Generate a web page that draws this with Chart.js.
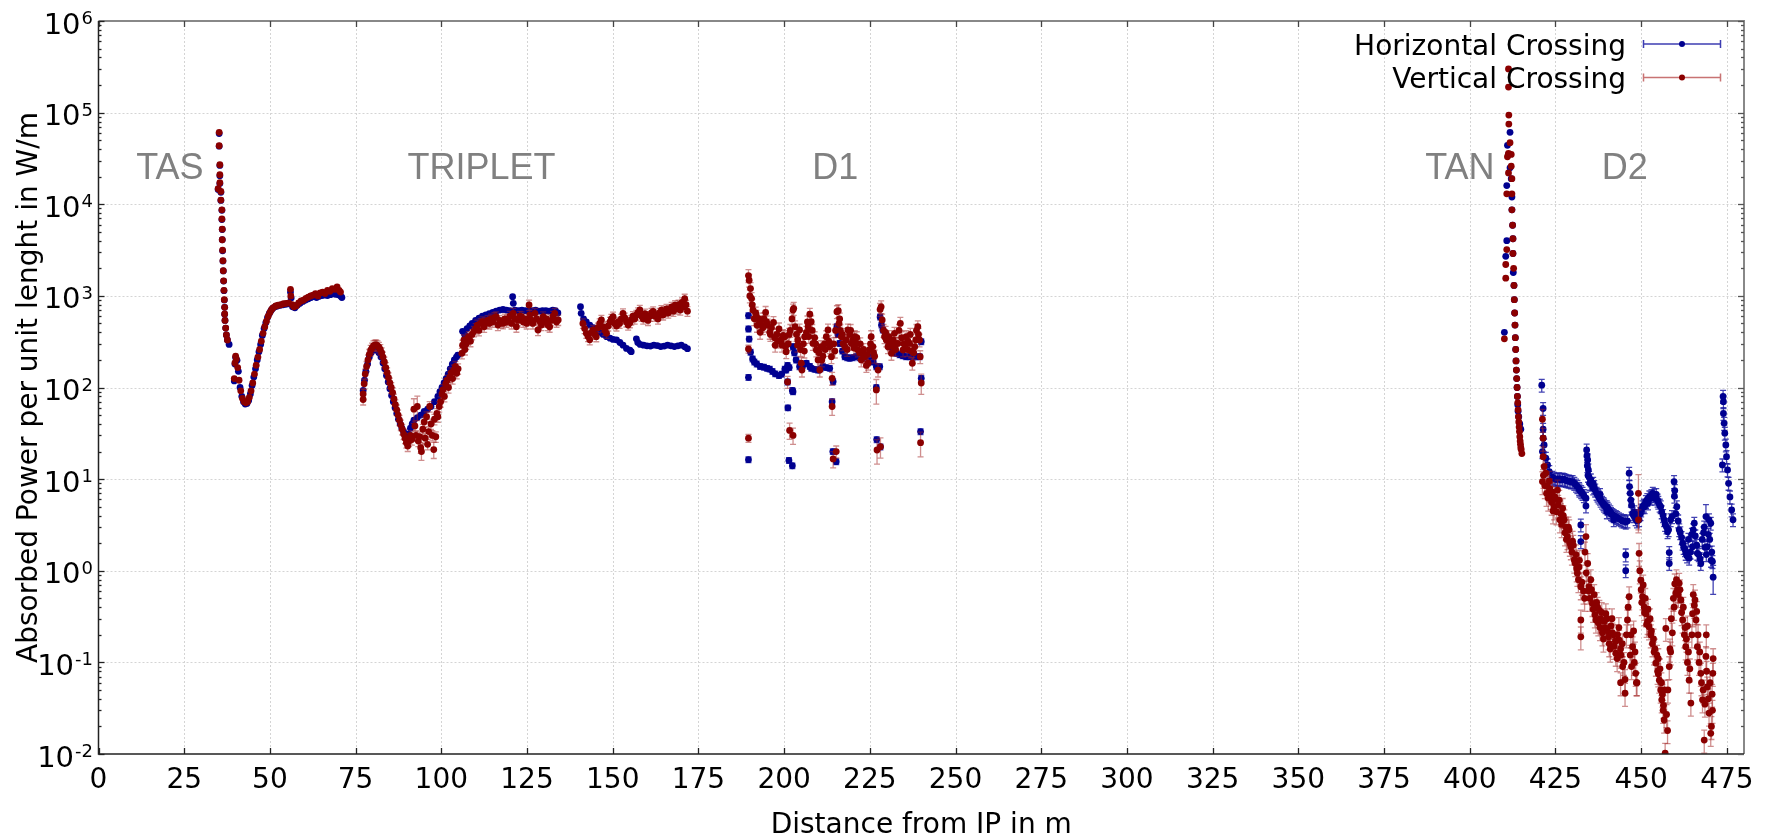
<!DOCTYPE html>
<html><head><meta charset="utf-8">
<script src="https://cdn.jsdelivr.net/npm/chart.js@4.4.1/dist/chart.umd.min.js"></script>
<style>html,body{margin:0;padding:0;background:#fff;overflow:hidden}</style>
</head><body>
<canvas id="c" width="1775" height="839"></canvas>
<script>
// ---------- DATA: [distance (m), power (W/m), relative error] ----------
const seriesNames = ['Horizontal Crossing', 'Vertical Crossing'];
const xTicks = [0,25,50,75,100,125,150,175,200,225,250,275,300,325,350,375,400,425,450,475];
const yTickExps = [-2,-1,0,1,2,3,4,5,6];
const regionLabels = ['TAS','TRIPLET','D1','TAN','D2'];
const regionX = [20.8,111.7,214.9,397.1,445.2];
const regionY = [24000,24000,24000,24000,24000];

// Horizontal crossing
const hTAS = [[35.2,59000],[35.2,43000],[35.4,26500],[35.4,20500],[35.4,16800],[34.9,14500],[35.7,13500],[35.7,11000],[36.0,8600],[36.0,6800],[36.1,5300],[36.1,4100],[36.2,3100],[36.3,2400],[36.4,1870],[36.5,1450],[36.6,1140],[36.7,900],[36.8,750],[36.8,630],[36.9,540],[37.1,445],[37.3,375],[37.6,330],[38.1,295],
[39.6,118],[39.8,180],[40.0,212],[40.4,198],[40.8,150],[41.3,100],[41.8,80],[42.3,70],[42.8,66],[43.3,67],[43.8,72],[44.3,85],[44.8,105],[45.3,130],[45.8,160],[46.3,200],[46.8,245],[47.3,295],[47.8,370],[48.3,440],[48.8,510],[49.3,580],[49.8,640],[50.3,690],[50.8,730],[51.5,760],[52.2,775],[53.0,790],[53.8,800],[54.6,810],[55.3,820],[56.0,1100],[56.2,950],[56.6,760],[57.3,740],[58.0,790],[58.8,830],[59.6,870],[60.4,900],[61.2,930],[62.0,960],[62.8,980],[63.6,960],[64.4,990],[65.2,1010],[66.0,1020],[66.8,1010],[67.6,1030],[68.4,1050],[69.2,1040],[70.0,1030],[70.6,1000],[71.0,960]];
const hTriplet = [[77.2,93],[77.6,120],[78.0,150],[78.5,180],[79.0,215],[79.5,240],[80.0,255],[80.6,262],[81.2,255],[81.8,240],[82.4,215],[83.0,185],[83.5,160],[84.0,135],[84.5,115],[85.0,97],[85.5,82],[86.0,70],[86.5,60],[87.0,52],[87.5,45],[88.0,40],[88.5,36],[89.0,33],[89.5,30],[90.0,29],[90.5,31],[91.0,36],[91.5,40],[92.0,44],[93,47],[94,50],[95,55],[96,58],[97,62],[98,70],[99,80],[99.6,90],[100.2,100],[100.8,112],[101.4,125],[102,140],[102.6,160],[103.2,180],[103.8,200],[104.4,215],[104.8,225],
[106.2,410],[106.8,380],[107.5,440],[108.3,470],[109,500],[110,540],[111,570],[112,600],[113,620],[114,640],[115,660],[116,680],[117,700],[118,710],[119,700],[120,690],[120.8,980],[121,830],[121.5,700],[122.5,690],[123.5,700],[124.5,690],[125.5,680],[126.5,690],[127.5,700],[128.5,680],[129.5,690],[130.5,690],[131.5,680],[132.5,700],[133.3,690],[134,650]];
const hQ3 = [[140.6,762],[140.8,645],[141.5,560],[142.3,520],[143.3,480],[144.3,450],[145.2,424],[146.2,400],[147.2,380],[148.2,359],[149.2,345],[150.1,335],[151.1,331],[152.1,310],[153.0,290],[154.0,267],[155.0,255],[155.4,246],[156.9,340],[157.3,310],[158,295],[159,290],[160,285],[161,283],[162,290],[163,287],[164,280],[165,283],[166,290],[167,285],[168,280],[169,285],[170,290],[171,278],[171.8,265]];
const hD1 = [[189.6,609],[189.6,436],[189.8,338],[190.2,243],[190.8,205],[191.3,190],[192,181],[193,170],[194.1,167],[195,162],[195.8,159],[196.6,150],[197.4,141],[198.5,135],[199.3,140],[200.2,159],[200.6,155],[201,174],[201.5,165],[202.6,279],[203,240],[203.5,200],[204.5,169],[205.5,175],[206.5,184],[207.5,170],[207.9,162],[208.9,158],[209.9,155],[210.6,160],[211.3,169],[212.3,165],[213.3,162],[214.3,116],[215.4,461],[215.7,380],[216.2,303],[217,250],[217.7,217],[218.4,212],[219.1,209],[220,212],[221,217],[222,212],[222.9,209],[224,215],[225,217],[226,190],[226.9,169],[227.9,169],[228,589],[228.4,480],[228.8,424],[229.5,370],[230.2,330],[230.8,279],[231.7,250],[232.7,236],[233.7,228],[234.6,222],[235.6,217],[236.6,217],[237.6,215],[238.5,217],[239.5,217],[240,316],[240,126],
[189.6,129],[189.6,16.3],[201,115],[201.1,60],[202.4,93],[202.6,90],[201.4,16],[202.4,14],[214,70],[214.2,20],[215.2,15.5],[226.9,100],[227,27],[228.1,22.5],[239.8,33]];
const hTAN = [[410.1,400],[410.5,2700],[410.8,4000],[410.8,16000],[411,44000],[411.3,35000],[411.75,61000],[411.75,25000],[412.1,19000],[412.3,12000],[412.3,8700],[412.5,5900],[412.6,4200],[412.6,2900],[412.7,1800],[412.9,1300],[413,910],[413.1,650],[413.2,480],[413.3,350],[413.4,260],[413.5,195],[413.6,155],[413.7,125],[413.8,100],[413.9,80],[414,65],[414.1,55],[414.3,48],[414.6,40],[414.9,35]];
const hD2 = [[421,106],[421.4,59],[421.4,35],[421.4,28],[421.7,23.6],[421.2,20],[422.2,16.9],[422.7,14.3],[423.2,12.1],[424.1,10.5],[425.6,10],[427.1,10],[428.5,9.55],[430,9.4],[431,8.6],[431.9,7.9],[432.9,7.0],[433.9,6.2],[433.9,5.1],[434.1,20.8],[434.4,16.2],[434.6,12.6],[435.3,9.8],[436.3,8.3],[437.3,6.7],[438.2,5.9],[439.2,5.2],[440.2,4.8],[441.2,4.2],[442.6,3.9],[444.1,3.6],[445.5,3.4],[446.5,11.6],[446.6,8.3],[447,5.9],[447.5,4.2],[448.4,3.7],[449.4,3.6],[450.4,5.0],[451.4,5.7],[452.8,6.2],[453.8,6.7],[454.8,5.9],[455.7,5.0],[456.7,3.6],[457.7,2.67],[458.6,3.6],[459.6,9.4],[459.7,6.5],[460.1,4.2],[461.1,2.8],[462.1,2.0],[463,1.55],[464,1.37],[465,1.83],[465.5,3.3],[466.4,1.55],[467.4,1.2],[468.4,3.0],[468.9,3.9,.35],[469.3,1.83],[470.3,3.3],[470.8,1.26],[471,0.85,.35],
[424.6,10.2],[425.1,9.9],[426.1,10.1],[426.6,9.8],[427.6,9.9],[428,9.7],[429,9.5],[429.5,9.3],[430.5,9.0],[431.4,8.3],[432,7.6],[432.5,7.3],[433.3,6.6],
[434.2,18],[434.3,14],[434.5,11],[434.8,10.5],[435,9.0],[435.6,8.8],[436,8.0],[436.6,7.6],[437,7.0],[437.6,6.4],[438,6.2],[438.6,5.6],[439,5.4],[439.6,5.0],[440,5.0],[440.6,4.6],[441,4.4],[441.6,4.1],[442,4.0],[443,3.8],[443.5,3.7],[444.5,3.5],[445,3.5],[446,3.5],[436,9.0],[438,6.8],[440,4.4],[442,3.6],
[446.8,7.0],[447.2,5.2],[447.8,4.0],[448,4.4],[448.8,3.5],[449,4.0],[449.8,4.2],[450,4.6],[450.8,5.2],[451,5.0],[451.8,6.0],[452,5.5],[452.4,6.4],[453,6.6],[453.4,7.0],[454,6.2],[454.4,6.8],[455,5.6],[455.4,5.2],[456,4.4],[456.4,4.0],[457,3.2],[457.4,3.0],[458,2.8],
[459,3.9],[459.8,7.5],[460.4,5.0],[460.8,3.5],[461.4,2.6],[461.8,2.3],[462.4,1.8],[462.8,1.7],[463.4,1.45],[463.8,2.2],[464.4,1.6],[464.8,2.5],[465.2,2.8],[465.8,2.4],[466.2,1.9],[466.8,1.5],[467.2,1.35],[467.8,2.2],[468.2,2.6],[468.6,1.8],[469,1.5],[469.6,2.5],[470,2.2],[470.6,1.6],[470.4,1.3],[469.8,3.6],
[432.4,3.16],[432.4,2.08],[445.5,1.49],[445.5,1.0],[458.2,1.58],[458.2,1.2],
[473.7,14.3],[473.9,80],[474,70],[474,52],[474.2,40.6],[474.4,31.7],[474.7,23.6],[474.9,17.6],[475.2,12.6],[475.5,9.0],[475.9,6.4],[476.4,4.6],[476.8,3.6]];

// Vertical crossing
const vTAS = [[35.2,61000],[35.2,43500],[35.4,27000],[35.4,21000],[35.4,17200],[34.9,14800],[35.7,13800],[35.7,11100],[36.0,8700],[36.0,6900],[36.1,5350],[36.1,4100],[36.2,3150],[36.3,2420],[36.4,1880],[36.5,1460],[36.6,1150],[36.7,910],[36.8,750],[36.8,635],[36.9,540],[37.1,445],[37.3,375],[37.6,330],
[39.6,125],[39.8,185],[40.0,220],[40.2,205],[40.6,165],[41.0,120],[41.5,92],[42.0,76],[42.5,70],[43.0,68],[43.5,70],[44.0,78],[44.5,92],[45.0,112],[45.5,140],[46.0,175],[46.5,215],[47.0,260],[47.5,320],[48.0,390],[48.5,460],[49.0,530],[49.5,600],[50.0,660],[50.5,710],[51.0,745],[51.7,775],[52.4,790],[53.2,800],[54.0,820],[54.8,830],[55.5,840],[56.0,1180],[56.1,1000],[56.5,800],[57.0,760],[57.7,780],[58.4,840],[59.1,880],[59.8,900],[60.5,940],[61.2,970],[61.9,1000],[62.6,1020],[63.3,1060],[64.0,1000],[64.7,1080],[65.4,1100],[66.1,1060],[66.8,1150],[67.5,1120],[68.2,1200],[68.9,1180],[69.6,1250],[70.2,1150],[70.6,1100]];
const vTriplet = [[77.2,85],[77.2,74],[77.5,110],[77.8,140],[78.2,170],[78.6,200],[79.0,230],[79.4,255],[79.8,270],[80.2,285],[80.6,290],[81.0,292],[81.4,285],[81.8,275],[82.2,260],[82.6,240],[83.0,215],[83.4,190],[83.8,165],[84.2,145],[84.6,128],[85.0,112],[85.4,100],[85.8,88],[86.2,75],[86.6,65],[87.0,57],[87.4,50],[87.8,44],[88.2,39],[88.6,35],[89.0,31],[89.4,28],[89.8,25],[90.2,23],[90.6,26],[91.0,30],[91.4,27],
[92.0,58,.3],[92.3,38],[92.6,30],[93.0,62,.3],[93.3,26],[93.7,29],[94.0,22],[94.2,20,.2],[94.6,35],[95.0,42],[95.3,28],[95.7,48],[96.0,24],[96.3,33],[96.6,62],[97.0,40],[97.4,30],[97.8,21,.2],[98.0,45],[98.4,29],[98.7,52],[99.0,48],[99.4,62],[99.8,70],[100.2,85],[100.5,95],[100.9,80],[101.3,110],[101.7,120],[102.1,100],[102.5,130],[102.9,145],[103.3,125],[103.7,155],[104.1,170],[104.5,143],[104.9,160],
[106.0,236],[106.2,290],[106.6,331],[106.9,260],[107.3,300],[107.7,345],[108.1,360],[108.5,320],[109,380],[109.5,410],[110,440],[110.5,480],[111,420],[111.5,500],[112,522],[112.5,460],[113,510],[113.5,540],[114,500],[114.5,560],[115,520],[115.5,580],[116,593],[116.5,480],[117,540],[117.5,510],[118,501],[118.5,560],[119,520],[119.5,546],[120,600],[120.5,500],[121,645],[121.5,560],[121.9,461],[122.4,540],[122.9,600],[123.4,593],[123.9,520],[124.4,560],[124.9,500],[125.6,795],[125.8,620],[126.2,546],[126.7,500],[127.3,645],[127.8,560],[128.2,424],[128.7,530],[129.2,480],[129.7,593],[130.2,520],[130.7,560],[131.1,480],[131.6,461],[132.1,540],[132.6,600],[133.1,645],[133.6,520],[134.1,546]];
const vQ3 = [[141.3,501],[141.8,440],[142.3,390],[142.8,360],[143.3,331],[143.8,400],[144.3,424],[144.8,380],[145.2,359],[145.7,450],[146.2,500],[146.7,546],[147.2,460],[147.7,420],[148.2,390],[148.7,470],[149.2,520],[149.6,560],[150.1,593],[150.6,500],[151.1,470],[151.6,520],[152,501],[152.5,560],[153,645],[153.5,580],[154,520],[154.5,480],[155,510],[155.4,546],[155.9,600],[156.4,560],[156.9,620],[157.4,660],[157.9,702],[158.4,600],[158.9,560],[159.4,640],[159.8,593],[160.3,540],[160.8,600],[161.3,650],[161.8,676],[162.3,600],[162.8,620],[163.2,560],[163.7,650],[164.2,700],[164.7,620],[165.2,680],[165.7,720],[166.2,650],[166.7,700],[167.2,760],[167.7,680],[168.2,790],[168.7,720],[169.2,800],[169.7,700],[170.2,850],[170.6,760],[171,930],[171.4,800],[171.8,680]];
const vD1 = [[189.6,1667],[189.8,1480],[190.2,1200],[190.5,935],[190.7,795],[191.3,563],[191.7,650],[192.1,477],[192.6,560],[193,400],[193.5,480],[194.1,563],[194.6,660],[195.2,480],[195.8,400],[196.3,450],[196.9,512],[197.4,289],[197.9,380],[198.5,436],[199.1,330],[199.7,370],[200.2,359],[200.6,246],[201.2,300],[201.8,420],[202.3,560],[202.6,702],[202.8,731],[203.2,461],[203.6,380],[204,330],[204.5,424],[205,184],[205.2,155],[205.6,300],[206,359],[206.5,400],[207,461],[207.5,630],[207.9,522],[208.4,303],[208.9,350],[209.4,257],[209.9,200],[210.4,155],[210.8,279],[211.3,220],[211.8,300],[212.3,359],[212.8,424],[213.3,279],[213.8,217],[214,126],[214.5,300],[215,420],[215.4,673],[215.8,690],[216,501],[216.4,420],[216.7,359],[217.2,300],[217.7,279],[218.1,330],[218.6,424],[219.1,380],[219.6,303],[220.1,330],[220.6,359],[221,300],[221.5,257],[222,240],[222.5,200],[223,230],[223.5,217],[224,174],[224.5,184],[225,260],[225.4,359],[225.9,280],[226.4,220],[227.4,155],[228,712],[228.3,760],[228.6,546],[229,420],[229.3,359],[229.8,330],[230.3,279],[230.8,300],[231.3,236],[231.8,330],[232.2,390],[232.7,300],[233.2,303],[233.9,501],[234.3,350],[234.7,257],[235.2,300],[235.6,359],[236.1,320],[236.6,303],[237,250],[237.4,184],[237.8,240],[238.1,279],[238.6,420],[239,461],[239.5,330],[239.7,217],
[190,1000],[190.9,700],[191.9,600],[192.9,520],[193.8,450],[194.9,520],[196,380],[197.2,350],[198.2,320],[199.4,290],[200.4,280],[201.5,380],[203.9,290],[204.8,260],[205.9,250],[206.8,520],[207.2,360],[208.2,420],[209.2,300],[210.2,240],[211,200],[212,260],[213,320],[214.8,250],[216.2,560],[217,380],[218.4,260],[219.4,420],[220.4,270],[221.2,350],[222.2,300],[223.2,260],[224.2,230],[225.2,300],[226.1,240],[229.6,400],[230.6,360],[231.6,280],[232.5,260],[233.5,420],[234.9,300],[235.9,260],[236.8,380],[238.4,330],[239.2,380],
[189.6,263,.1],[189.6,28,.1],[201,115,.15],[201.6,34,.2],[202.6,30,.2],[214,62,.2],[214.3,16.6,.2],[215.2,20,.15],[226.9,94,.3],[227.1,20.8,.3],[228.1,22.6,.25],[239.8,25,.3],[240,112,.25]];
const vTAN = [[410.1,340],[410.5,2200],[410.5,1560],[410.8,3200],[410.8,13000],[411,33000],[411.3,300000],[411.3,190000],[411.3,36000],[411.3,22000],[411.4,94000],[411.4,75000],[411.75,47000],[412.1,35000],[412.1,26000],[412.3,19000],[412.3,13000],[412.3,8700],[412.5,5900],[412.6,4200],[412.6,2900],[412.8,2000],[412.9,1300],[413,910],[413.1,650],[413.2,480],[413.3,350],[413.4,260],[413.5,195],[413.6,155],[413.7,125],[413.8,100],[413.9,80],[414,68],[414.1,57],[414.2,48],[414.3,42],[414.4,37],[414.5,33],[414.6,29],[414.7,26],[414.8,24],[414.9,22],[415,21],[415.2,19]];
const vD2 = [[421.2,45],[421.4,28],[421.4,17.6],[421.2,9.4],[421.7,13.7],[422.2,11.6],[422.7,8.3],[423.2,9.5],[423.7,6.5],[424.1,7.2],[424.6,5.0],[425.1,6.0],[425.6,7.6],[426.1,5.9],[426.6,4.2],[427.1,4.8],[427.6,3.6],[428,3.0],[428.5,2.36],[429,2.8],[429.5,1.83],[430,2.1],[430.5,1.31],[431,1.5],[431.4,0.94],[431.9,1.1],[432.4,0.67],[432.4,0.29],[432.4,0.19],[433.9,2.36,.35],[434.4,1.2],[434.8,0.67],[435.3,0.8],[435.8,0.44],[436.3,0.55],[436.8,0.29],[437.3,0.4],[437.8,0.37],[438.2,0.3],[438.7,0.21],[439.2,0.28],[439.7,0.34],[440.2,0.22],[440.7,0.16],[441.2,0.25],[441.6,0.21],[442.1,0.15],[442.6,0.126],[443.1,0.2],[443.6,0.175],[444.1,0.12],[444.6,0.09],[445.3,0.046],[445.3,0.065],[446,0.29],[446.5,0.52],[447,0.2],[447.5,0.148],[448,0.1],[448.4,0.076],[448.8,0.06],[449.2,7.0,.6],[449.2,3.6],[449.4,1.55],[449.9,0.79],[450.4,0.52],[450.9,0.4],[451.4,0.34],[451.9,0.28],[452.3,0.245],[452.8,0.2],[453.3,0.16],[453.8,0.13],[454.3,0.098],[454.8,0.08],[455.3,0.064],[455.7,0.05],[456,0.039],[456.4,0.03],[456.7,0.0235],[457,0.0102],[457.2,0.235],[457.7,0.018],[458.2,0.09],[458.6,0.13],[459.1,0.21],[459.6,0.4],[460.1,0.57],[460.6,0.62],[461.1,0.73],[461.6,0.48],[462.1,0.29],[462.6,0.2],[463,0.148],[463.5,0.1],[464,0.064],[464.5,0.036],[465,0.34],[465.5,0.42],[466,0.29],[466.4,0.148],[466.9,0.1],[467.4,0.076],[467.9,0.039],[468.4,0.0142],[468.9,0.116],[469.3,0.054],[469.8,0.028],[470.3,0.0168],[470.8,0.03],[470.9,0.076],[433.5,0.5],[444,0.06],[455,0.11],[463.5,0.25],[469,0.2],
[421.5,11],[421.9,8.5],[422.4,7.0],[422.9,6.2],[423.4,7.8],[423.9,5.6],[424.3,4.5],[424.8,6.4],[425.3,4.4],[425.8,5.2],[426.3,3.6],[426.8,3.2],[427.3,4.0],[427.8,2.6],[428.2,2.2],[428.8,3.0],[429.2,2.0],[429.8,1.6],[430.2,1.9],[430.8,1.2],[431.2,1.05],[431.7,0.8],[432,1.3],[432.7,0.75],[433.2,0.6],
[433.6,1.6],[434,0.95],[434.6,0.6],[435,0.5],[435.5,0.62],[436,0.38],[436.5,0.33],[437,0.45],[437.5,0.27],[438,0.24],[438.5,0.35],[439,0.18],[439.5,0.24],[440,0.3],[440.5,0.19],[441,0.14],[441.5,0.3],[442,0.2],[442.5,0.17],[443,0.11],[443.5,0.24],[444,0.14],[444.5,0.16],[445,0.1],[445.7,0.2],[446.2,0.4],[446.8,0.12],[447.2,0.09],[447.8,0.22],[448.2,0.13],[448.6,0.06],
[449.6,1.0],[450,0.62],[450.2,0.45],[450.6,0.7],[451,0.35],[451.2,0.5],[451.6,0.26],[452,0.38],[452.6,0.3],[453,0.22],[453.6,0.18],[454,0.14],[454.6,0.12],[455,0.075],[455.5,0.085],[455.9,0.06],[456.2,0.045],[456.5,0.034],[456.8,0.05],[457.4,0.027],[457.8,0.05],[458.4,0.14],[458.8,0.3],
[459.4,0.5],[459.8,0.72],[460.3,0.8],[460.8,0.55],[461.3,0.62],[461.8,0.35],[462.3,0.4],[462.8,0.24],[463.2,0.18],[463.8,0.13],[464.2,0.085],[464.8,0.2],[465.2,0.55],[465.7,0.48],[466.2,0.36],[466.6,0.2],[467.1,0.13],[467.6,0.06],[468.1,0.05],[468.6,0.035],[469.1,0.08],[469.6,0.04],[470.1,0.06],[470.5,0.02],[470.7,0.045],[471,0.11]];

// ---------- build datasets ----------
function build(groups) {
  const out = [];
  groups.forEach(([arr, def]) => arr.forEach(p => out.push({ x: p[0], y: p[1], e: p.length > 2 ? p[2] : def })));
  return out;
}
const hPoints = build([[hTAS,.03],[hTriplet,.05],[hQ3,.05],[hD1,.07],[hTAN,.05],[hD2,.16]]);
const vPoints = build([[vTAS,.03],[vTriplet,.13],[vQ3,.12],[vD1,.16],[vTAN,.05],[vD2,.28]]);

const BLUE = '#000090', RED = '#8b0000';
const BLUE_ERR = 'rgba(20,20,160,0.8)', RED_ERR = 'rgba(160,30,30,0.5)';

const axisPlugin = {
  id: 'axisPlugin',
  beforeDatasetsDraw(chart) {
    const { ctx, chartArea: a, scales: { x, y } } = chart;
    ctx.save();
    ctx.strokeStyle = '#d4d4d4';
    ctx.lineWidth = 1;
    ctx.setLineDash([2, 2]);
    xTicks.forEach(t => { if (t === 0) return; const px = Math.round(x.getPixelForValue(t)) + 0.5; ctx.beginPath(); ctx.moveTo(px, a.top); ctx.lineTo(px, a.bottom); ctx.stroke(); });
    yTickExps.forEach(e => { if (e === -2 || e === 6) return; const py = Math.round(y.getPixelForValue(Math.pow(10, e))) + 0.5; ctx.beginPath(); ctx.moveTo(a.left, py); ctx.lineTo(a.right, py); ctx.stroke(); });
    ctx.restore();
  },
  beforeDatasetDraw(chart, args) {
    const { ctx, chartArea: a, scales: { x, y } } = chart;
    const ds = chart.data.datasets[args.index];
    ctx.save();
    ctx.beginPath(); ctx.rect(a.left, a.top, a.right - a.left, a.bottom - a.top); ctx.clip();
    ctx.strokeStyle = ds.errColor; ctx.lineWidth = 1.3;
    ds.data.forEach(p => {
      if (!p.e) return;
      const px = x.getPixelForValue(p.x);
      const y1 = y.getPixelForValue(p.y * (1 + p.e));
      const y0 = y.getPixelForValue(Math.max(p.y * (1 - p.e), 1e-4));
      ctx.beginPath();
      ctx.moveTo(px, y0); ctx.lineTo(px, y1);
      if (Math.abs(y0 - y1) > 4) { ctx.moveTo(px - 3, y0); ctx.lineTo(px + 3, y0); ctx.moveTo(px - 3, y1); ctx.lineTo(px + 3, y1); }
      ctx.stroke();
    });
    ctx.restore();
  },
  afterDatasetsDraw(chart) {
    const { ctx, chartArea: a, scales: { x, y } } = chart;
    ctx.save();
    // frame
    ctx.setLineDash([]);
    ctx.strokeStyle = '#888'; ctx.lineWidth = 2;
    ctx.beginPath(); ctx.moveTo(a.left, a.top); ctx.lineTo(a.right, a.top); ctx.lineTo(a.right, a.bottom); ctx.stroke();
    ctx.strokeStyle = '#222'; ctx.lineWidth = 1.5;
    ctx.beginPath(); ctx.moveTo(a.left, a.top); ctx.lineTo(a.left, a.bottom); ctx.lineTo(a.right, a.bottom); ctx.stroke();
    // x ticks
    ctx.lineWidth = 1.3;
    xTicks.forEach(t => {
      const px = Math.round(x.getPixelForValue(t)) + 0.5;
      ctx.strokeStyle = '#222'; ctx.beginPath(); ctx.moveTo(px, a.bottom); ctx.lineTo(px, a.bottom - 6); ctx.stroke();
      ctx.strokeStyle = '#444'; ctx.beginPath(); ctx.moveTo(px, a.top); ctx.lineTo(px, a.top + 6); ctx.stroke();
    });
    // y ticks (major + minor)
    yTickExps.forEach(e => {
      for (let m = 1; m <= 9; m++) {
        if (e === 6 && m > 1) break;
        const py = Math.round(y.getPixelForValue(m * Math.pow(10, e))) + 0.5;
        const len = m === 1 ? 6 : 3;
        ctx.strokeStyle = '#222'; ctx.beginPath(); ctx.moveTo(a.left, py); ctx.lineTo(a.left + len, py); ctx.stroke();
        ctx.strokeStyle = '#555'; ctx.beginPath(); ctx.moveTo(a.right, py); ctx.lineTo(a.right - len, py); ctx.stroke();
      }
    });
    // x tick labels
    ctx.fillStyle = '#000';
    ctx.font = '28px "DejaVu Sans"'; ctx.textAlign = 'center'; ctx.textBaseline = 'middle';
    xTicks.forEach(t => ctx.fillText(String(t), x.getPixelForValue(t), a.bottom + 27));
    // y tick labels 10^n
    yTickExps.forEach(e => {
      const py = y.getPixelForValue(Math.pow(10, e));
      const ex = String(e);
      ctx.font = '18px "DejaVu Sans"';
      const ew = ctx.measureText(ex).width;
      const right = a.left - 5.5;
      ctx.textAlign = 'left'; ctx.textBaseline = 'alphabetic';
      ctx.fillText(ex, right - ew, py + 3);
      ctx.font = '29px "DejaVu Sans"'; ctx.textAlign = 'right';
      ctx.fillText('10', right - ew - 1, py + 12.5);
    });
    // axis titles
    ctx.font = '28px "DejaVu Sans"'; ctx.textAlign = 'center'; ctx.textBaseline = 'middle';
    ctx.fillText('Distance from IP in m', (a.left + a.right) / 2, 826);
    ctx.save(); ctx.translate(37, (a.top + a.bottom) / 2); ctx.rotate(-Math.PI / 2);
    ctx.textBaseline = 'alphabetic';
    ctx.fillText('Absorbed Power per unit lenght in W/m', 0, 0); ctx.restore();
    // region labels
    ctx.fillStyle = '#808080'; ctx.font = '36px "Liberation Sans"'; ctx.textBaseline = 'middle';
    regionLabels.forEach((l, i) => ctx.fillText(l, x.getPixelForValue(regionX[i]), y.getPixelForValue(regionY[i])));
    // legend
    const rows = [[seriesNames[0], BLUE, 'rgba(40,40,170,0.9)', 44, 54.5], [seriesNames[1], RED, 'rgba(190,90,90,0.85)', 77.5, 88]];
    rows.forEach(([txt, mc, lc, ly, bl]) => {
      ctx.fillStyle = '#000'; ctx.font = '28px "DejaVu Sans"'; ctx.textAlign = 'right'; ctx.textBaseline = 'alphabetic';
      ctx.fillText(txt, 1626, bl);
      ctx.strokeStyle = lc; ctx.lineWidth = 1.5;
      ctx.beginPath(); ctx.moveTo(1643, ly); ctx.lineTo(1721, ly);
      ctx.moveTo(1643.5, ly - 4); ctx.lineTo(1643.5, ly + 4); ctx.moveTo(1720.5, ly - 4); ctx.lineTo(1720.5, ly + 4); ctx.stroke();
      ctx.fillStyle = mc; ctx.beginPath(); ctx.arc(1682, ly, 3, 0, Math.PI * 2); ctx.fill();
    });
    ctx.restore();
  }
};

new Chart(document.getElementById('c'), {
  type: 'scatter',
  data: {
    datasets: [
      { label: seriesNames[1], data: vPoints, backgroundColor: RED, borderColor: RED, pointRadius: 3.4, pointBorderWidth: 0, errColor: RED_ERR, order: 0 },
      { label: seriesNames[0], data: hPoints, backgroundColor: BLUE, borderColor: BLUE, pointRadius: 3.4, pointBorderWidth: 0, errColor: BLUE_ERR, order: 1 }
    ]
  },
  options: {
    responsive: false, animation: false,
    layout: { padding: { left: 98.5, right: 31, top: 21, bottom: 85 } },
    scales: {
      x: { type: 'linear', min: 0, max: 480, display: false },
      y: { type: 'logarithmic', min: 0.01, max: 1e6, display: false }
    },
    plugins: { legend: { display: false }, tooltip: { enabled: false } }
  },
  plugins: [axisPlugin]
});
</script>
</body></html>
